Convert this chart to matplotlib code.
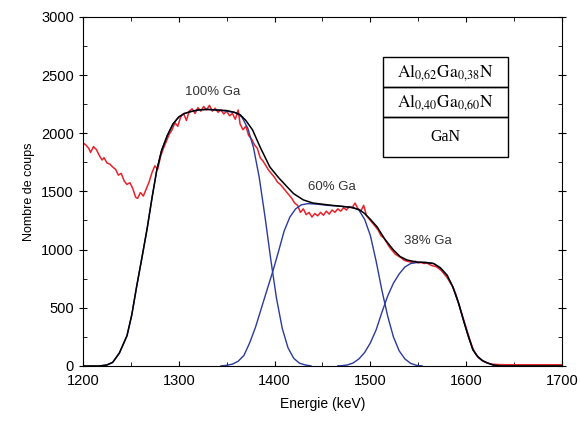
import matplotlib.pyplot as plt
from matplotlib.ticker import MultipleLocator

plt.rcParams['font.family'] = ['Liberation Sans', 'DejaVu Sans']
plt.rcParams['mathtext.fontset'] = 'stix'

# ---- data ----
# measured spectrum (red)
exp_e = [1200, 1203, 1206, 1208, 1211, 1214, 1217, 1220, 1222, 1225, 1228, 1231, 1234, 1237,
         1240, 1243, 1246, 1249, 1252, 1255, 1257, 1260, 1263, 1266, 1269, 1272, 1275, 1278,
         1281, 1284, 1287, 1290, 1293, 1296, 1299, 1302, 1305, 1308, 1311, 1314, 1317, 1320,
         1323, 1326, 1329, 1332, 1335, 1338, 1341, 1344, 1347, 1350, 1353, 1356, 1359, 1362,
         1364, 1367, 1370, 1373, 1376, 1379, 1382, 1385, 1388, 1391, 1394, 1397, 1400, 1403,
         1406, 1409, 1412, 1415, 1418, 1421, 1424, 1427, 1430, 1433, 1436, 1439, 1442, 1445,
         1448, 1451, 1454, 1457, 1460, 1463, 1466, 1469, 1472, 1475, 1478, 1481, 1484, 1487,
         1490, 1493, 1496, 1499, 1502, 1505, 1508, 1511, 1514, 1517, 1520, 1523, 1526, 1529,
         1532, 1535, 1538, 1541, 1544, 1547, 1550, 1553, 1556, 1559, 1562, 1565, 1568, 1571,
         1574, 1577, 1580, 1583, 1586, 1589, 1592, 1595, 1598, 1601, 1604, 1607, 1610, 1613,
         1616, 1619, 1622, 1625, 1628, 1632, 1640, 1660, 1680, 1700]
exp_c = [1917, 1900, 1870, 1835, 1885, 1860, 1810, 1770, 1790, 1745, 1735, 1710, 1690, 1640,
         1655, 1590, 1560, 1575, 1525, 1450, 1440, 1490, 1460, 1520, 1580, 1660, 1720, 1690,
         1800, 1870, 1930, 1990, 2030, 2090, 2060, 2140, 2170, 2110, 2190, 2210, 2170, 2220,
         2190, 2230, 2200, 2240, 2190, 2215, 2180, 2200, 2165, 2190, 2150, 2170, 2120, 2200,
         2080, 2030, 2060, 1980, 1950, 1900, 1870, 1790, 1760, 1720, 1680, 1650, 1620, 1580,
         1560, 1530, 1500, 1470, 1440, 1400, 1380, 1320, 1350, 1300, 1320, 1280, 1310, 1290,
         1320, 1295, 1330, 1305, 1340, 1320, 1350, 1330, 1360, 1340, 1370, 1360, 1400, 1350,
         1330, 1380, 1290, 1260, 1230, 1200, 1170, 1120, 1100, 1060, 1020, 990, 960, 945,
         930, 910, 900, 895, 890, 900, 885, 890, 880, 885, 870, 860, 855, 840,
         820, 790, 760, 720, 680, 620, 540, 460, 380, 300, 220, 150, 100, 70,
         50, 35, 25, 18, 14, 12, 10, 10, 10, 10]

# simulated layers (blue)
ga100_e = [1218, 1225, 1231, 1238, 1246, 1251, 1256, 1262, 1267, 1272, 1277, 1282, 1288, 1294,
           1300, 1306, 1312, 1320, 1329, 1340, 1350, 1360, 1366, 1372, 1378, 1384, 1390, 1396,
           1402, 1408, 1414, 1420, 1426, 1432, 1438]
ga100_c = [0, 8, 30, 110, 260, 440, 680, 950, 1180, 1440, 1680, 1850, 1980, 2080,
           2140, 2170, 2185, 2200, 2205, 2200, 2190, 2176, 2137, 2044, 1877, 1620, 1283, 917,
           581, 323, 156, 65, 23, 8, 0]

ga60_e = [1344, 1350, 1356, 1362, 1368, 1374, 1380, 1386, 1392, 1398, 1404, 1410, 1416, 1422,
          1428, 1435, 1445, 1455, 1465, 1475, 1482, 1488, 1494, 1500, 1506, 1512, 1518, 1524,
          1530, 1536, 1542, 1548, 1554]
ga60_c = [0, 5, 15, 40, 90, 198, 330, 490, 650, 808, 980, 1160, 1280, 1350,
          1385, 1395, 1390, 1380, 1375, 1368, 1362, 1340, 1260, 1120, 900, 650, 430, 250,
          130, 60, 22, 5, 0]

ga38_e = [1466, 1470, 1476, 1482, 1488, 1494, 1500, 1506, 1512, 1518, 1524, 1530, 1536, 1542,
          1550, 1558, 1566, 1573, 1580, 1586, 1592, 1597, 1602, 1607, 1612, 1617, 1622, 1628,
          1635]
ga38_c = [0, 2, 8, 25, 60, 115, 198, 310, 460, 600, 710, 790, 850, 880,
          890, 890, 880, 843, 780, 680, 540, 396, 260, 138, 80, 45, 26, 8,
          0]

# total fit (black)
fit_e = [1200, 1218, 1225, 1231, 1238, 1246, 1251, 1256, 1262, 1267, 1272, 1277, 1282, 1288,
         1294, 1300, 1306, 1312, 1320, 1329, 1340, 1350, 1358, 1364, 1370, 1377, 1385, 1395,
         1404, 1413, 1420, 1430, 1440, 1450, 1460, 1470, 1480, 1488, 1494, 1500, 1507, 1515,
         1524, 1531, 1538, 1548, 1558, 1566, 1573, 1580, 1586, 1592, 1597, 1602, 1607, 1612,
         1617, 1622, 1628, 1635, 1700]
fit_c = [0, 0, 8, 30, 110, 260, 440, 680, 950, 1180, 1440, 1680, 1850, 1980,
         2080, 2140, 2170, 2185, 2200, 2205, 2200, 2195, 2180, 2160, 2110, 2029, 1880, 1711,
         1620, 1540, 1480, 1427, 1400, 1390, 1380, 1372, 1362, 1345, 1310, 1260, 1195, 1090,
         997, 940, 911, 893, 888, 880, 843, 780, 680, 540, 396, 260, 138, 80,
         45, 26, 8, 0, 0]

layers = ['$\\mathrm{Al_{0{,}62}Ga_{0{,}38}N}$', '$\\mathrm{Al_{0{,}40}Ga_{0{,}60}N}$', 'GaN']
peak_labels = ['100% Ga', '60% Ga', '38% Ga']
label_pos = [(1335, 2355), (1460, 1540), (1560, 1075)]

fig = plt.figure(figsize=(5.8, 4.23), dpi=100)
ax = fig.add_axes([0.143, 0.135, 0.826, 0.825])

blue = '#2b3a9e'
ax.plot(exp_e, exp_c, color='#e8222b', lw=1.1)
for e, c in [(ga100_e, ga100_c), (ga60_e, ga60_c), (ga38_e, ga38_c)]:
    ax.plot(e, c, color=blue, lw=1.0)
ax.plot(fit_e, fit_c, color='black', lw=1.1)

for txt, (x, y) in zip(peak_labels, label_pos):
    ax.text(x, y, txt, ha='center', va='center', fontsize=9.5, color='#333333')

ax.set_xlim(1200, 1700)
ax.set_ylim(0, 3000)
ax.xaxis.set_major_locator(MultipleLocator(100))
ax.xaxis.set_minor_locator(MultipleLocator(50))
ax.yaxis.set_major_locator(MultipleLocator(500))
ax.yaxis.set_minor_locator(MultipleLocator(250))
ax.tick_params(which='both', direction='in', top=True, right=True, labelsize=10.5)
ax.tick_params(axis='y', which='major', direction='inout', length=6)
ax.tick_params(axis='x', which='major', pad=6)
ax.tick_params(which='minor', length=3)
ax.set_xlabel('Energie (keV)', fontsize=10, labelpad=6)
ax.set_ylabel('Nombre de coups', fontsize=9)

# layer stack box
x0, x1 = 0.626, 0.887
bounds = [0.885, 0.799, 0.713, 0.599]
sizes = [12.5, 12.5, 11.5]
for i, name in enumerate(layers):
    top, bot = bounds[i], bounds[i + 1]
    ax.add_patch(plt.Rectangle((x0, bot), x1 - x0, top - bot, transform=ax.transAxes,
                               fill=False, edgecolor='black', lw=1.0))
    ax.text((x0 + x1) / 2, (top + bot) / 2, name, transform=ax.transAxes,
            ha='center', va='center', fontsize=sizes[i], family='Liberation Serif')

fig.savefig('out.png', dpi=100)
